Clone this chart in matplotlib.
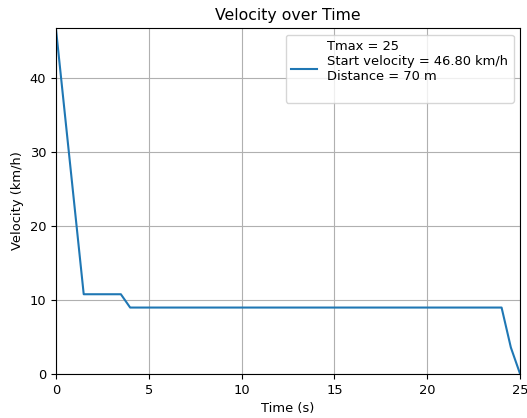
import matplotlib
matplotlib.use("Agg")
import matplotlib.pyplot as plt

# temps (s) et vitesse (km/h)
time_s = [0, 1.5, 3.5, 4, 24, 24.5, 25]
velocity_kmh = [46.8, 10.8, 10.8, 9.0, 9.0, 3.6, 0.0]
tmax = 25
distance_m = 70

plt.rcParams["font.size"] = 9.4

fig, ax = plt.subplots(figsize=(5.27, 4.18), dpi=100)
fig.subplots_adjust(left=0.106, right=0.987, top=0.933, bottom=0.105)

label = (f"Tmax = {tmax}\nStart velocity = {velocity_kmh[0]:.2f} km/h\n"
         f"Distance = {distance_m} m\n")
ax.plot(time_s, velocity_kmh, label=label)
ax.set_xlim(0, tmax)
ax.set_ylim(0, velocity_kmh[0])
ax.set_xlabel("Time (s)")
ax.set_ylabel("Velocity (km/h)")
ax.set_title("Velocity over Time", fontsize=11.3)
ax.grid(True)
ax.legend(loc="upper right")
fig.savefig("out.png")
